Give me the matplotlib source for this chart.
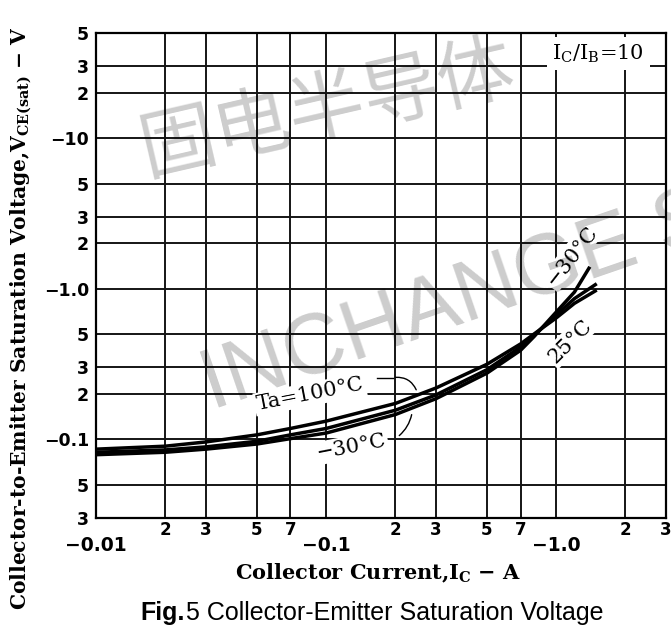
import matplotlib.pyplot as plt

# collector current magnitude (A) and VCE(sat) magnitude (V) for each Ta
cur_100 = [0.01, 0.02, 0.03, 0.05, 0.07, 0.1, 0.2, 0.3, 0.5, 0.7, 0.8, 1.0, 1.2, 1.5]
vce_100 = [0.086, 0.090, 0.096, 0.107, 0.118, 0.132, 0.173, 0.219, 0.315, 0.43, 0.50, 0.64, 0.80, 0.98]

cur_25 = [0.01, 0.02, 0.03, 0.05, 0.07, 0.1, 0.2, 0.3, 0.5, 0.7, 0.8, 1.0, 1.2, 1.5]
vce_25 = [0.082, 0.085, 0.089, 0.097, 0.107, 0.118, 0.156, 0.197, 0.29, 0.41, 0.49, 0.67, 0.86, 1.08]

cur_m30 = [0.01, 0.02, 0.03, 0.05, 0.07, 0.1, 0.2, 0.3, 0.5, 0.7, 0.8, 1.0, 1.2, 1.4]
vce_m30 = [0.079, 0.082, 0.086, 0.093, 0.101, 0.110, 0.146, 0.186, 0.275, 0.39, 0.48, 0.70, 0.95, 1.40]

x_major = [0.01, 0.1, 1.0]
x_major_labels = ["\u22120.01", "\u22120.1", "\u22121.0"]
x_minor = [0.02, 0.03, 0.05, 0.07, 0.2, 0.3, 0.5, 0.7, 2, 3]
x_minor_labels = ["2", "3", "5", "7", "2", "3", "5", "7", "2", "3"]

y_major = [0.1, 1.0, 10]
y_major_labels = ["\u22120.1", "\u22121.0", "\u221210"]
y_minor = [0.03, 0.05, 0.2, 0.3, 0.5, 2, 3, 5, 20, 30, 50]
y_minor_labels = ["3", "5", "2", "3", "5", "2", "3", "5", "2", "3", "5"]

fig = plt.figure(figsize=(6.71, 6.33), dpi=100)
ax = fig.add_axes([96 / 671, 115 / 633, 570 / 671, 485 / 633])
ax.set_xscale("log")
ax.set_yscale("log")
ax.set_xlim(0.01, 3)
ax.set_ylim(0.03, 50)

for c, v in [(cur_100, vce_100), (cur_25, vce_25), (cur_m30, vce_m30)]:
    ax.plot(c, v, color="black", lw=2.5, solid_capstyle="butt", zorder=3)

ax.set_xticks(x_major)
ax.set_xticklabels(x_major_labels)
ax.set_xticks(x_minor, minor=True)
ax.set_xticklabels(x_minor_labels, minor=True)
ax.set_yticks(y_major)
ax.set_yticklabels(y_major_labels)
ax.set_yticks(y_minor, minor=True)
ax.set_yticklabels(y_minor_labels, minor=True)

ax.tick_params(axis="x", which="major", length=0, pad=13, labelsize=13.5)
ax.tick_params(axis="x", which="minor", length=0, pad=2, labelsize=12)
ax.tick_params(axis="y", which="both", length=0, pad=5, labelsize=12.5)
for lab in ax.get_xticklabels(which="both") + ax.get_yticklabels(which="both"):
    lab.set_fontweight("bold")
    lab.set_family("DejaVu Sans")

ax.grid(which="both", color="#151515", lw=1.4)
for s in ax.spines.values():
    s.set_linewidth(1.6)

serif = "DejaVu Serif"
box = dict(facecolor="white", edgecolor="none", pad=1.5)

ax.text(1.52, 36.5, "I$_{\\mathregular{C}}$/I$_{\\mathregular{B}}$=10", family=serif,
        fontsize=15, ha="center", va="center", bbox=dict(facecolor="white", edgecolor="none", pad=4), zorder=4)

ax.text(0.0851, 0.199, "Ta=100\u00b0C", family=serif, fontsize=15, rotation=11,
        ha="center", va="center", bbox=box, zorder=4)
ax.plot([0.1667, 0.195], [0.257, 0.257], color="black", lw=1.0, zorder=4)
ax.annotate("", xy=(0.249, 0.205), xytext=(0.195, 0.257),
            arrowprops=dict(arrowstyle="-", lw=1.0, connectionstyle="arc3,rad=-0.4"), zorder=4)

ax.text(0.1284, 0.0885, "\u221230\u00b0C", family=serif, fontsize=15, rotation=11,
        ha="center", va="center", bbox=box, zorder=4)
ax.annotate("", xy=(0.2366, 0.152), xytext=(0.2035, 0.103),
            arrowprops=dict(arrowstyle="-", lw=1.0, connectionstyle="arc3,rad=0.2"), zorder=4)

ax.text(1.17, 1.65, "\u221230\u00b0C", family=serif, fontsize=15, rotation=52,
        ha="center", va="center", bbox=box, zorder=4)
ax.text(1.15, 0.45, "25\u00b0C", family=serif, fontsize=15, rotation=45,
        ha="center", va="center", bbox=box, zorder=4)

fig.text(378 / 671, 1 - 573 / 633, "Collector Current,I$_{\\mathregular{C}}$ \u2212 A", family=serif,
         fontsize=15, fontweight="bold", ha="center", va="center")
fig.text(21 / 671, 1 - 318 / 633,
         "Collector-to-Emitter Saturation Voltage,V$_{\\mathregular{CE(sat)}}$ \u2212 V",
         family=serif, fontsize=14.6, fontweight="bold", rotation=90, ha="center", va="center")

t1 = fig.text(140 / 671, 1 - 620 / 633, "Fig.", family="Liberation Sans", fontsize=18,
              fontweight="bold", ha="left", va="baseline")
ax.annotate("5 Collector-Emitter Saturation Voltage", xy=(1, 0), xycoords=t1,
            xytext=(1, 0), textcoords="offset points", family="Liberation Sans",
            fontsize=18, ha="left", va="bottom", annotation_clip=False)

# watermarks
fig.text(150 / 671, 1 - 192 / 633, "固电半导体", family=["Noto Sans CJK SC", "DejaVu Sans"],
         fontsize=55, color="black", alpha=0.2, rotation=13, rotation_mode="anchor",
         ha="left", va="bottom")
fig.text(212 / 671, 1 - 410 / 633, "INCHANGE S", family="Liberation Sans",
         fontsize=62, color="black", alpha=0.2, rotation=19, rotation_mode="anchor",
         ha="left", va="baseline")

fig.savefig("out.png", dpi=100)
